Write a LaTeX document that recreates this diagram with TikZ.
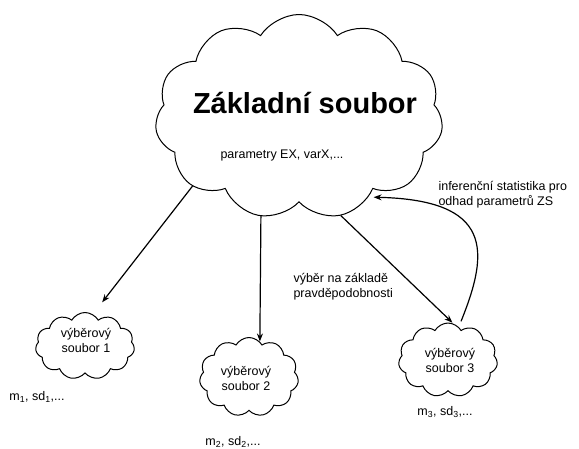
\documentclass[tikz,border=0pt]{standalone}
\usepackage{fontspec}
\setmainfont{Liberation Sans}
\usetikzlibrary{shapes.symbols,arrows.meta}

\tikzset{
    zscloud/.style={cloud, draw, line width=1pt, cloud puffs=11, cloud puff arc=115,
        cloud ignores aspect, minimum width=288pt, minimum height=205pt, inner sep=0pt},
    vscloud/.style={cloud, draw, line width=1pt, cloud puffs=11, cloud puff arc=120,
        cloud ignores aspect, minimum width=99pt, minimum height=72pt, inner sep=0pt},
    txt/.style={font=\fontsize{12.5}{15}\selectfont, align=left},
    ctxt/.style={font=\fontsize{12.5}{15}\selectfont, align=center},
    arr/.style={-{Stealth[length=8pt,width=6pt]}, line width=1.2pt},
}

\begin{document}
\begin{tikzpicture}[x=1pt, y=-1pt]
        \useasboundingbox (0,0) rectangle (579,448);
        % zakladni soubor
        \node[zscloud] (zs) at (299,117) {};
        \node[font=\fontsize{29}{34}\selectfont\bfseries] (title) at (305,103) {Základní soubor};
        \node[txt] (par) at (282,155) {parametry EX, varX,...};
        % vyberove soubory
        \node[vscloud, minimum height=67pt] (vs1) at (85,346) {};
        \node[vscloud, minimum height=79pt] (vs2) at (249,377) {};
        \node[vscloud, minimum height=74pt] (vs3) at (448,360) {};
        \node[ctxt] (t1) at (86,340) {výběrový\\soubor 1};
        \node[ctxt] (t2) at (246,378) {výběrový\\soubor 2};
        \node[ctxt] (t3) at (450,360) {výběrový\\soubor 3};
        \node[txt] (m1) at (37,397) {m\textsubscript{1}, sd\textsubscript{1},...};
        \node[txt] (m2) at (233,442) {m\textsubscript{2}, sd\textsubscript{2},...};
        \node[txt] (m3) at (445,412) {m\textsubscript{3}, sd\textsubscript{3},...};
        % popisky
        \node[txt, anchor=west] (inf) at (435,195) {inferenční statistika pro\\odhad parametrů ZS};
        \node[txt, anchor=west] (vyb) at (290,287) {výběr na základě\\pravděpodobnosti};
        % sipky
        \draw[arr, shorten >=15pt] (zs.213) -- (vs1.76);
        \draw[arr] (zs.249) -- (vs2.73);
        \draw[arr, shorten >=1pt] (zs.293) -- (vs3.82);
        \draw[arr, shorten <=6pt, shorten >=5pt] (vs3.72) .. controls (490,250) and (492,200) .. (zs.311);
\end{tikzpicture}
\end{document}
